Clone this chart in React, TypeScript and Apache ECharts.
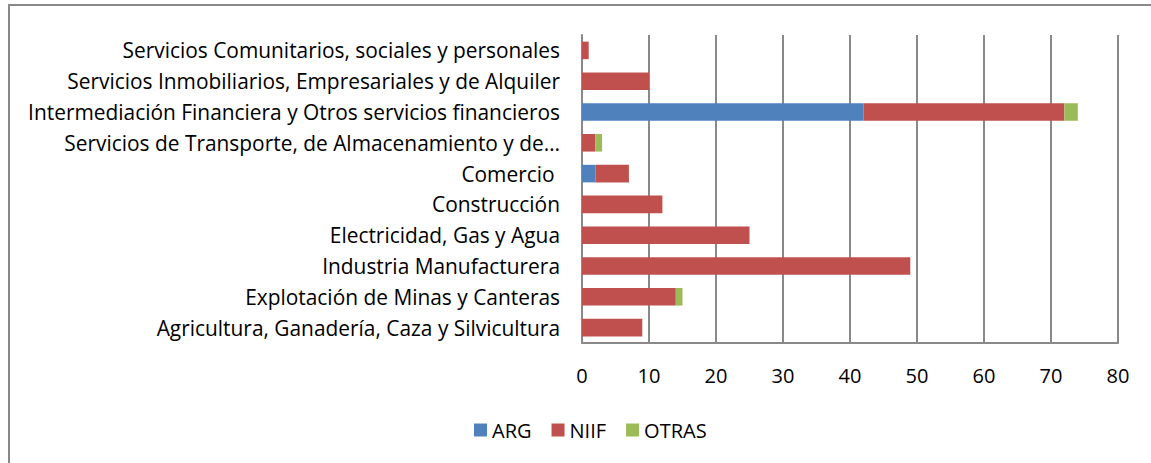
import React, { useEffect, useRef } from "react";
import * as echarts from "echarts";

const categories = [
  "Agricultura, Ganadería, Caza y Silvicultura",
  "Explotación de Minas y Canteras",
  "Industria Manufacturera",
  "Electricidad, Gas y Agua",
  "Construcción",
  "Comercio ",
  "Servicios de Transporte, de Almacenamiento y de…",
  "Intermediación Financiera y Otros servicios financieros",
  "Servicios Inmobiliarios, Empresariales y de Alquiler",
  "Servicios Comunitarios, sociales y personales",
];
const argValues = [0, 0, 0, 0, 0, 2, 0, 42, 0, 0];
const niifValues = [9, 14, 49, 25, 12, 5, 2, 30, 10, 1];
const otrasValues = [0, 1, 0, 0, 0, 0, 1, 2, 0, 0];
const seriesNames = ["ARG", "NIIF", "OTRAS"];
const xMin = 0;
const xMax = 80;
const xInterval = 10;

const FONT = "Open Sans";
const GRAY = "#898989";

export default function App() {
  const ref = useRef<HTMLDivElement>(null);
  useEffect(() => {
    document.body.style.margin = "0";
    const chart = echarts.init(ref.current!, null, { renderer: "svg" });
    const mk = (name: string, data: number[], color: string) => ({
      name,
      type: "bar",
      stack: "total",
      data,
      barCategoryGap: "43%",
      itemStyle: { color },
    });
    chart.setOption({
      animation: false,
      backgroundColor: "#ffffff",
      textStyle: { fontFamily: FONT },
      graphic: [
        {
          type: "rect",
          shape: { x: 9, y: 5, width: 1150, height: 520 },
          style: { fill: "none", stroke: GRAY, lineWidth: 2 },
          silent: true,
        },
      ],
      grid: { left: 582, right: 33, top: 35, bottom: 120, containLabel: false },
      xAxis: {
        type: "value",
        min: xMin,
        max: xMax,
        interval: xInterval,
        axisLine: { show: true, lineStyle: { color: GRAY, width: 2 } },
        axisTick: { show: false },
        splitLine: { show: true, lineStyle: { color: GRAY, width: 2 } },
        axisLabel: { color: "#000", fontSize: 20, fontFamily: FONT, margin: 22 },
      },
      yAxis: {
        type: "category",
        data: categories,
        axisLine: { show: true, lineStyle: { color: GRAY, width: 2 } },
        axisTick: { show: false },
        axisLabel: { color: "#000", fontSize: 20.9, fontFamily: FONT, margin: 22 },
      },
      legend: {
        data: seriesNames,
        left: 469,
        top: 415,
        itemWidth: 13,
        itemHeight: 13,
        itemGap: 20,
        icon: "rect",
        textStyle: { color: "#000", fontSize: 20, fontFamily: FONT },
      },
      series: [
        mk(seriesNames[0], argValues, "#4F81BD"),
        mk(seriesNames[1], niifValues, "#C0504D"),
        mk(seriesNames[2], otrasValues, "#9BBB59"),
      ],
    });
    return () => chart.dispose();
  }, []);
  return <div ref={ref} style={{ width: 1151, height: 463 }} />;
}
